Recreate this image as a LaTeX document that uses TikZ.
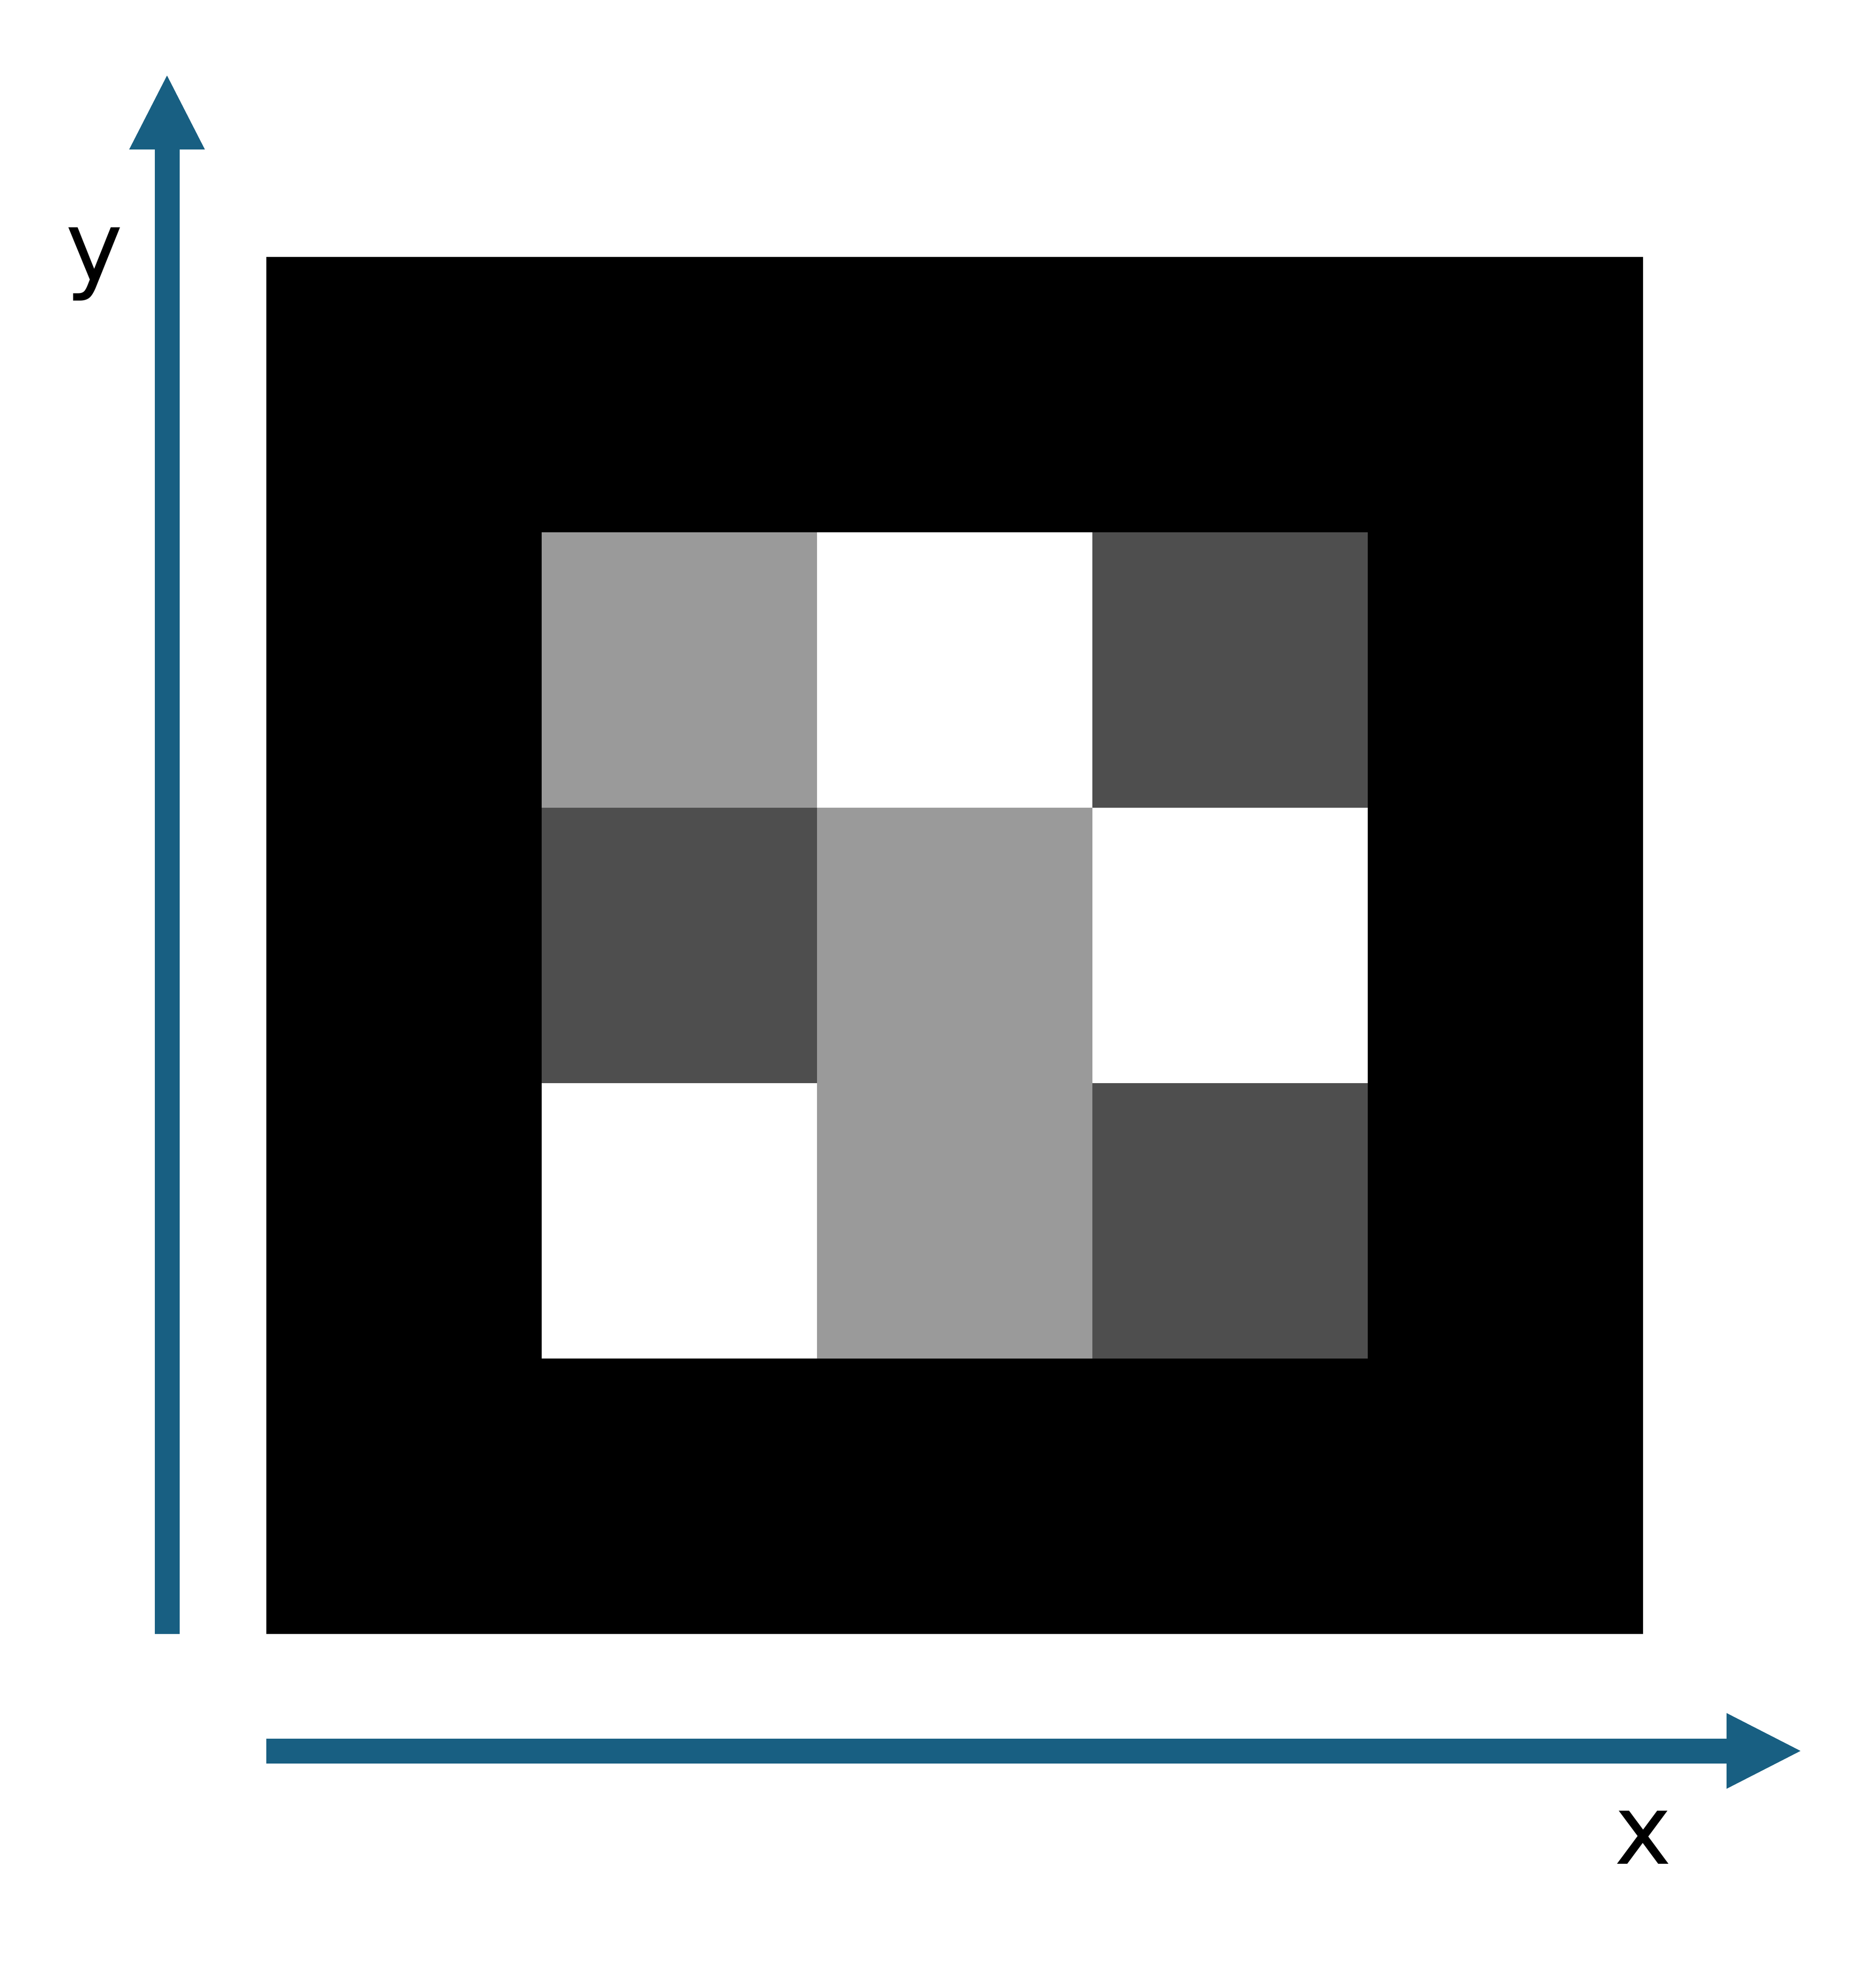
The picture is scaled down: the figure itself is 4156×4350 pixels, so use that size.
\documentclass[tikz,border=0pt]{standalone}
\usepackage{fontspec}
\setmainfont{DejaVu Sans}
\usetikzlibrary{arrows.meta}
\definecolor{axisblue}{HTML}{185F82}
\definecolor{lightcell}{HTML}{9A9A9A}
\definecolor{darkcell}{HTML}{4E4E4E}
\tikzset{
  axis/.style={draw=axisblue, line width=5.5pt, -{Triangle[length=16.8pt,width=15.4pt,fill=axisblue]}},
  axislabel/.style={inner sep=0pt, anchor=base, font=\fontsize{21.5pt}{25pt}\selectfont},
}
\begin{document}
\begin{tikzpicture}[x=0.1pt,y=-0.1pt]
\useasboundingbox (0,0) rectangle (4156,4350);
% outer black square
\fill[black] (590,569) rectangle (3640,3619);
% inner 3x3 grid
\fill[lightcell] (1200,1179) rectangle (1810,1789);
\fill[white]     (1810,1179) rectangle (2420,1789);
\fill[darkcell]  (2420,1179) rectangle (3030,1789);
\fill[darkcell]  (1200,1789) rectangle (1810,2399);
\fill[lightcell] (1810,1789) rectangle (2420,2399);
\fill[white]     (2420,1789) rectangle (3030,2399);
\fill[white]     (1200,2399) rectangle (1810,3009);
\fill[lightcell] (1810,2399) rectangle (2420,3009);
\fill[darkcell]  (2420,2399) rectangle (3030,3009);
% axes
\coordinate (yorigin) at (370,3619);
\coordinate (ytip) at (370,163);
\coordinate (xorigin) at (590,3878);
\coordinate (xtip) at (3993,3878);
\draw[axis] (yorigin) -- (ytip);
\draw[axis] (xorigin) -- (xtip);
\node[axislabel] (ylabel) at (209,622) {y};
\node[axislabel] (xlabel) at (3640,4128) {x};
\end{tikzpicture}
\end{document}
